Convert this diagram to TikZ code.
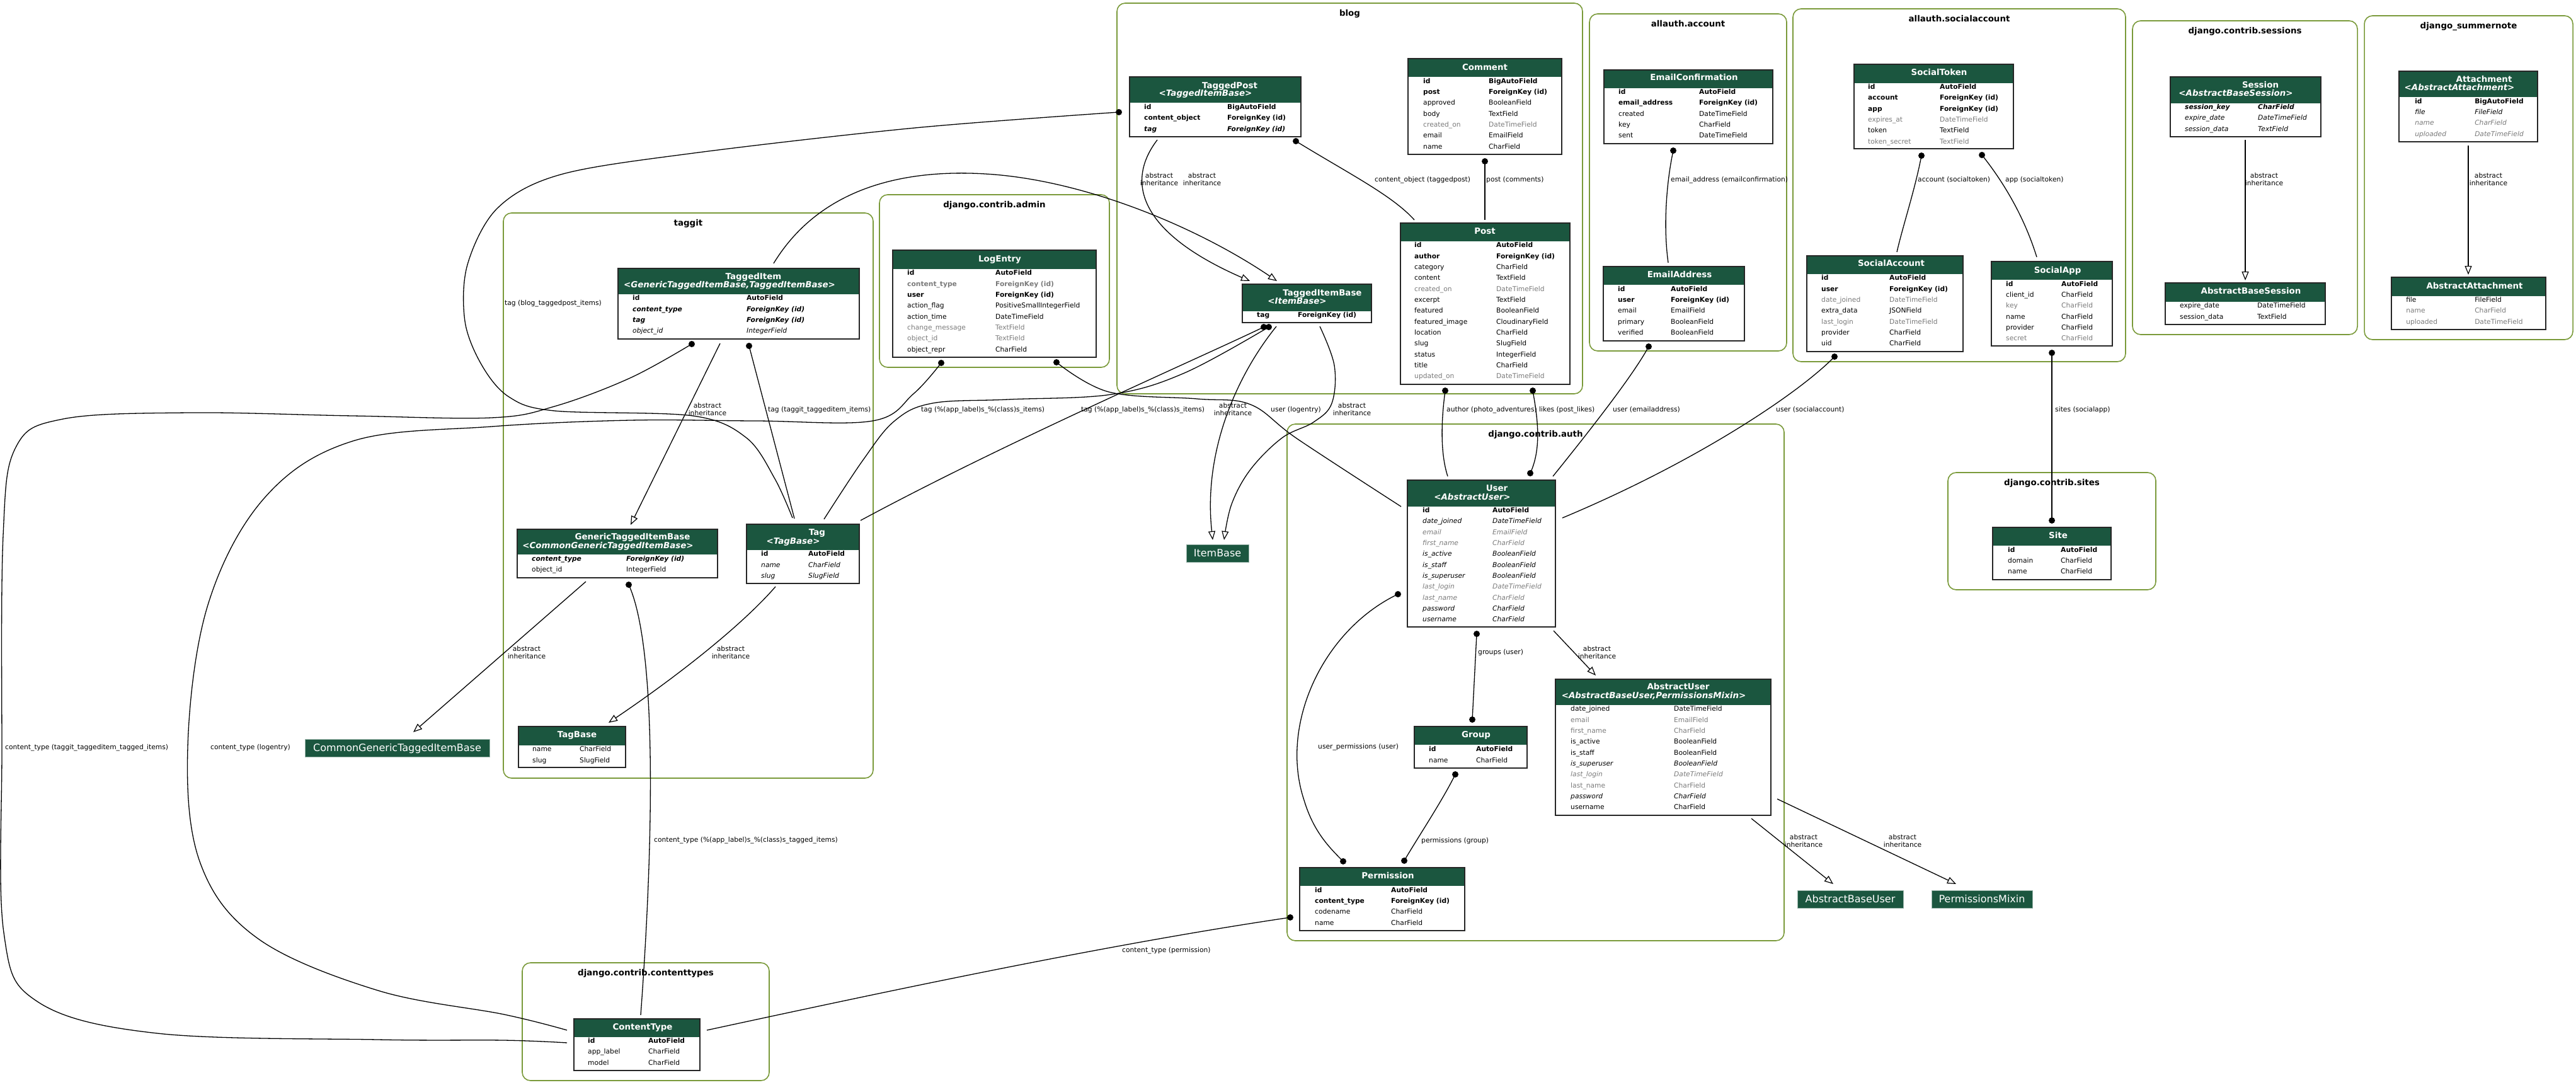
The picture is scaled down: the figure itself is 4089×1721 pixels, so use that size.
\documentclass[tikz,border=0pt]{standalone}
\usepackage{fontspec}
\setmainfont{DejaVu Sans}
\usetikzlibrary{arrows.meta}
\definecolor{hdr}{HTML}{1B563F}
\definecolor{clusgreen}{HTML}{7A9A3A}
\definecolor{fgray}{HTML}{7B7B7B}
\newcommand\fs{\fontsize{10.7}{12}\selectfont}
\newcommand\hfs{\fontsize{13.4}{15}\selectfont}
\newcounter{nn}
\tikzset{
  clus/.style={draw=clusgreen, line width=1.6pt, rounded corners=13pt, inner sep=0pt, outer sep=0pt},
  clab/.style={font=\hfs\bfseries, inner sep=0pt, text height=12pt, text depth=2.2pt, anchor=center},
  tframe/.style={draw=black!85, line width=1.6pt, inner sep=0pt, outer sep=0pt},
  fld/.style={inner sep=0pt, text height=9pt, text depth=2pt, anchor=west},
  f/.style={font=\fs},
  fb/.style={font=\fs\bfseries},
  fi/.style={font=\fs\itshape},
  fbi/.style={font=\fs\bfseries\itshape},
  fg/.style={font=\fs, text=fgray},
  fgi/.style={font=\fs\itshape, text=fgray},
  fgb/.style={font=\fs\bfseries, text=fgray},
  htitle/.style={font=\hfs\bfseries, text=white, inner sep=0pt, text height=12pt, text depth=2.2pt, anchor=center},
  htitlei/.style={font=\hfs\bfseries\itshape, text=white, inner sep=0pt, text height=12pt, text depth=2.2pt, anchor=center},
  edge/.style={draw=black, line width=1.3pt},
  inh/.style={edge, -{Triangle[fill=white, length=14pt, width=11pt, line width=1.2pt]}},
  elab/.style={font=\fs, inner sep=0pt, text height=9pt, text depth=2pt, anchor=west},
  elab2/.style={font=\fs, inner sep=0pt, align=center, anchor=center},
  std/.style={fill=hdr, draw=hdr!45!white, line width=0.8pt, text=white, font=\fontsize{16}{18}\selectfont, inner sep=0pt, minimum height=28pt, text height=14pt, text depth=2.4pt, anchor=center}
}
\newcommand\mktable[6]{%
  \fill[white] (#2,#3) rectangle (#4,#5);
  \fill[hdr] (#2,#3) rectangle (#4,#6);
  \node[tframe, minimum width={(#4-#2)*1pt}, minimum height={(#5-#3)*1pt}] (#1) at ({(#2+#4)/2},{(#3+#5)/2}) {};}
\newcommand\mkrow[6]{\stepcounter{nn}%
  \node[fld,#4] (ra\thenn) at (#1,#3) {#5};
  \node[fld,#4] (rb\thenn) at (#2,#3) {#6};}
\newcommand\mkclus[6]{%
  \node[clus, minimum width={(#4-#2)*1pt}, minimum height={(#5-#3)*1pt}] (#1) at ({(#2+#4)/2},{(#3+#5)/2}) {};
  \node[clab] (#1-lab) at ({(#2+#4)/2},{#3+16}) {#6};}
\newcommand\dotat[1]{\fill (#1) circle[radius=5pt];}
\begin{document}
\begin{tikzpicture}[x=1pt,y=-1pt]
\fill[white] (0,0) rectangle (4089,1721);
\useasboundingbox (0,0) rectangle (4089,1721);

% ---------------- clusters
\mkclus{cblog}{1773}{5}{2512}{625}{blog}
\mkclus{cacc}{2523}{22}{2836}{557}{allauth.account}
\mkclus{csoc}{2846}{14}{3374}{574}{allauth.socialaccount}
\mkclus{cses}{3385}{33}{3742}{531}{django.contrib.sessions}
\mkclus{csum}{3753}{25}{4084}{539}{django\_summernote}
\mkclus{ctag}{799}{338}{1386}{1235}{taggit}
\mkclus{cadm}{1396}{309}{1761}{583}{django.contrib.admin}
\mkclus{cauth}{2043}{673}{2832}{1493}{django.contrib.auth}
\mkclus{csite}{3092}{750}{3422}{936}{django.contrib.sites}
\mkclus{cct}{829}{1528}{1221}{1715}{django.contrib.contenttypes}

% ---------------- edges
% blog
\coordinate (tp-b1) at (2057,224); \coordinate (post-t1) at (2245,349);
\draw[edge] (tp-b1) .. controls (2140,275) and (2210,310) .. (post-t1); \dotat{tp-b1}
\coordinate (cm-b) at (2357,256); \coordinate (post-t2) at (2357,349);
\draw[edge] (cm-b) -- (post-t2); \dotat{cm-b}
\coordinate (tp-b2) at (1837,222); \coordinate (tib-t1) at (1984,446);
\draw[inh] (tp-b2) .. controls (1785,290) and (1810,370) .. (tib-t1);
\coordinate (ti-t) at (1228,418); \coordinate (tib-t2) at (2027,446);
\draw[inh] (ti-t) .. controls (1300,300) and (1430,268) .. (1564,276) .. controls (1720,285) and (1900,360) .. (tib-t2);
% tag (blog_taggedpost_items)
\coordinate (tp-l) at (1776,178); \coordinate (tag-t1) at (1258,822);
\draw[edge] plot[smooth, tension=0.55] coordinates {(tp-l) (1452,203) (1101,243) (890,277) (790,330) (742,420) (738,510) (765,580) (808,630) (880,652) (1100,660) (1185,695) (1230,760) (tag-t1)};
\dotat{tp-l}
% tag (%(app_label)s_%(class)s_items)
\coordinate (tib-b1) at (2006,519); \coordinate (tag-tr) at (1366,826);
\draw[edge] (tib-b1) .. controls (1900,570) and (1600,700) .. (tag-tr); \dotat{tib-b1}
\coordinate (tib-b2) at (2014,519); \coordinate (tag-t2) at (1308,824);
\draw[edge] plot[smooth, tension=0.6] coordinates {(tib-b2) (1880,592) (1764,626) (1600,634) (1480,640) (1420,668) (1370,730) (tag-t2)};
\dotat{tib-b2}
% TaggedItemBase -> ItemBase
\coordinate (tib-b3) at (2095,518); \coordinate (ib-t2) at (1943,857);
\draw[inh] plot[smooth, tension=0.6] coordinates {(tib-b3) (2118,580) (2114,640) (2085,670) (2035,695) (1985,745) (1955,800) (ib-t2)};
\coordinate (tib-b4) at (2026,518); \coordinate (ib-t1) at (1925,857);
\draw[inh] (tib-b4) .. controls (1960,600) and (1910,720) .. (ib-t1);
% user (logentry)
\coordinate (le-b2) at (1677,575); \coordinate (user-l) at (2224,804);
\draw[edge] plot[smooth, tension=0.6] coordinates {(le-b2) (1760,622) (1900,633) (1985,642) (2060,697) (user-l)};
\dotat{le-b2}
% content_type (logentry)
\coordinate (le-b1) at (1494,576); \coordinate (ct-l1) at (900,1635);
\draw[edge] plot[smooth, tension=0.6] coordinates {(le-b1) (1450,625) (1385,668) (1200,668) (1000,667) (780,677) (560,700) (420,790) (330,960) (298,1186) (318,1370) (410,1490) (600,1572) (800,1610) (ct-l1)};
\dotat{le-b1}
% content_type (taggit_taggeditem_tagged_items)
\coordinate (ti-b1) at (1098,546); \coordinate (ct-l2) at (900,1655);
\draw[edge] plot[smooth, tension=0.6] coordinates {(ti-b1) (1000,600) (880,645) (780,663) (560,660) (300,655) (100,665) (25,710) (5,850) (3,1186) (6,1480) (60,1590) (250,1640) (600,1650) (800,1651) (ct-l2)};
\dotat{ti-b1}
% taggit internal
\coordinate (ti-b2) at (1143,545); \coordinate (gtib-t) at (1001,833);
\draw[inh] (ti-b2) -- (gtib-t);
\coordinate (ti-b3) at (1189,549); \coordinate (tag-t3) at (1261,823);
\draw[edge] (ti-b3) -- (tag-t3); \dotat{ti-b3}
\coordinate (gtib-b1) at (930,923); \coordinate (cg-t) at (656,1162);
\draw[inh] (gtib-b1) -- (cg-t);
\coordinate (tag-b) at (1231,931); \coordinate (tb-t) at (966,1147);
\draw[inh] (tag-b) .. controls (1180,990) and (1080,1070) .. (tb-t);
\coordinate (gtib-b2) at (998,928); \coordinate (ct-t) at (1017,1611);
\draw[edge] (gtib-b2) .. controls (1040,1020) and (1040,1300) .. (ct-t); \dotat{gtib-b2}
% content_type (permission)
\coordinate (perm-l) at (2048,1456); \coordinate (ct-r) at (1122,1635);
\draw[edge] (perm-l) .. controls (1750,1500) and (1400,1575) .. (ct-r); \dotat{perm-l}
% post -> user
\coordinate (post-b1) at (2294,620); \coordinate (user-t1) at (2298,756);
\draw[edge] (post-b1) .. controls (2286,680) and (2288,725) .. (user-t1); \dotat{post-b1}
\coordinate (post-b2) at (2433,620); \coordinate (user-t2) at (2429,751);
\draw[edge] (post-b2) .. controls (2440,660) and (2448,710) .. (user-t2); \dotat{post-b2} \dotat{user-t2}
% allauth -> user
\coordinate (ea-b) at (2617,550); \coordinate (user-t3) at (2465,756);
\draw[edge] (ea-b) .. controls (2590,600) and (2510,700) .. (user-t3); \dotat{ea-b}
\coordinate (sa-b) at (2912,566); \coordinate (user-r) at (2480,822);
\draw[edge] (sa-b) .. controls (2860,620) and (2700,730) .. (user-r); \dotat{sa-b}
\coordinate (sapp-b) at (3257,560); \coordinate (site-t) at (3257,826);
\draw[edge] (sapp-b) -- (site-t); \dotat{sapp-b} \dotat{site-t}
\coordinate (ec-b) at (2656,239); \coordinate (ea-t) at (2648,417);
\draw[edge] (ec-b) .. controls (2645,290) and (2640,360) .. (ea-t); \dotat{ec-b}
\coordinate (st-b1) at (3050,247); \coordinate (sa-t) at (3011,400);
\draw[edge] (st-b1) .. controls (3040,300) and (3020,360) .. (sa-t); \dotat{st-b1}
\coordinate (st-b2) at (3146,246); \coordinate (sapp-t) at (3233,408);
\draw[edge] (st-b2) .. controls (3185,295) and (3215,350) .. (sapp-t); \dotat{st-b2}
% sessions / summernote
\coordinate (ses-b) at (3564,222); \coordinate (abs-t) at (3564,445);
\draw[inh] (ses-b) -- (abs-t);
\coordinate (att-b) at (3918,231); \coordinate (aat-t) at (3918,436);
\draw[inh] (att-b) -- (aat-t);
% auth
\coordinate (user-b1) at (2466,1001); \coordinate (au-t) at (2533,1072);
\draw[inh] (user-b1) -- (au-t);
\coordinate (user-b2) at (2344,1006); \coordinate (grp-t) at (2337,1142);
\draw[edge] (user-b2) -- (grp-t); \dotat{user-b2} \dotat{grp-t}
\coordinate (user-l2) at (2219,943); \coordinate (perm-t1) at (2132,1367);
\draw[edge] (user-l2) .. controls (2100,1000) and (2030,1150) .. (2070,1270) .. controls (2085,1320) and (2110,1345) .. (perm-t1); \dotat{user-l2} \dotat{perm-t1}
\coordinate (grp-b) at (2310,1229); \coordinate (perm-t2) at (2229,1366);
\draw[edge] (grp-b) .. controls (2290,1270) and (2250,1330) .. (perm-t2); \dotat{grp-b} \dotat{perm-t2}
\coordinate (au-b1) at (2780,1299); \coordinate (abu-t) at (2910,1403);
\draw[inh] (au-b1) -- (abu-t);
\coordinate (au-b2) at (2821,1268); \coordinate (pm-t) at (3105,1403);
\draw[inh] (au-b2) -- (pm-t);

% ---------------- edge labels
\node[elab2] (l1) at (1840,285) {abstract\\inheritance};
\node[elab2] (l2) at (1908,285) {abstract\\inheritance};
\node[elab] (l3) at (2182,285) {content\_object (taggedpost)};
\node[elab] (l4) at (2359,285) {post (comments)};
\node[elab] (l5) at (2652,285) {email\_address (emailconfirmation)};
\node[elab] (l6) at (3044,285) {account (socialtoken)};
\node[elab] (l7) at (3183,285) {app (socialtoken)};
\node[elab2] (l8) at (3594,285) {abstract\\inheritance};
\node[elab2] (l9) at (3950,285) {abstract\\inheritance};
\node[elab] (l10) at (801,481) {tag (blog\_taggedpost\_items)};
\node[elab2] (l11) at (1123,650) {abstract\\inheritance};
\node[elab] (l12) at (1219,650) {tag (taggit\_taggeditem\_items)};
\node[elab] (l13) at (1462,650) {tag (\%(app\_label)s\_\%(class)s\_items)};
\node[elab] (l14) at (1716,650) {tag (\%(app\_label)s\_\%(class)s\_items)};
\node[elab2] (l15) at (1957,650) {abstract\\inheritance};
\node[elab] (l16) at (2017,650) {user (logentry)};
\node[elab2] (l17) at (2146,650) {abstract\\inheritance};
\node[elab] (l18) at (2296,650) {author (photo\_adventures)};
\node[elab] (l19) at (2443,650) {likes (post\_likes)};
\node[elab] (l20) at (2560,650) {user (emailaddress)};
\node[elab] (l21) at (2819,650) {user (socialaccount)};
\node[elab] (l22) at (3262,650) {sites (socialapp)};
\node[elab2] (l23) at (836,1035) {abstract\\inheritance};
\node[elab2] (l24) at (1160,1035) {abstract\\inheritance};
\node[elab] (l25) at (8,1186) {content\_type (taggit\_taggeditem\_tagged\_items)};
\node[elab] (l26) at (334,1186) {content\_type (logentry)};
\node[elab] (l27) at (1038,1333) {content\_type (\%(app\_label)s\_\%(class)s\_tagged\_items)};
\node[elab] (l28) at (1781,1508) {content\_type (permission)};
\node[elab] (l29) at (2346,1035) {groups (user)};
\node[elab2] (l30) at (2535,1035) {abstract\\inheritance};
\node[elab] (l31) at (2092,1185) {user\_permissions (user)};
\node[elab] (l32) at (2256,1334) {permissions (group)};
\node[elab2] (l33) at (2863,1334) {abstract\\inheritance};
\node[elab2] (l34) at (3020,1334) {abstract\\inheritance};

% ---------------- standalone nodes
\node[std, minimum width=293pt] (cgtib) at (630.5,1187) {CommonGenericTaggedItemBase};
\node[std, minimum width=99pt] (itembase) at (1932.5,878) {ItemBase};
\node[std, minimum width=168pt] (abu) at (2937,1427) {AbstractBaseUser};
\node[std, minimum width=160pt] (pmix) at (3146,1427) {PermissionsMixin};

% ---------------- tables
% TaggedPost
\mktable{taggedpost}{1793}{122}{2065}{217}{163}
\node[htitle] (tp-h1) at (1952,135.5) {TaggedPost};
\node[htitlei] (tp-h2) at (1913.5,148) {<TaggedItemBase>};
\mkrow{1816}{1948}{170}{fb}{id}{BigAutoField}
\mkrow{1816}{1948}{187}{fb}{content\_object}{ForeignKey (id)}
\mkrow{1816}{1948}{205}{fbi}{tag}{ForeignKey (id)}
% Comment
\mktable{comment}{2235}{93}{2479}{245}{122}
\node[htitle] (cm-h) at (2357,106.5) {Comment};
\mkrow{2259}{2363}{129}{fb}{id}{BigAutoField}
\mkrow{2259}{2363}{146}{fb}{post}{ForeignKey (id)}
\mkrow{2259}{2363}{163}{f}{approved}{BooleanField}
\mkrow{2259}{2363}{181}{f}{body}{TextField}
\mkrow{2259}{2363}{198}{fg}{created\_on}{DateTimeField}
\mkrow{2259}{2363}{215}{f}{email}{EmailField}
\mkrow{2259}{2363}{233}{f}{name}{CharField}
% Post
\mktable{post}{2223}{354}{2492}{610}{383}
\node[htitle] (post-h) at (2357,366.5) {Post};
\mkrow{2245}{2375}{389}{fb}{id}{AutoField}
\mkrow{2245}{2375}{407}{fb}{author}{ForeignKey (id)}
\mkrow{2245}{2375}{424}{f}{category}{CharField}
\mkrow{2245}{2375}{441}{f}{content}{TextField}
\mkrow{2245}{2375}{459}{fg}{created\_on}{DateTimeField}
\mkrow{2245}{2375}{476}{f}{excerpt}{TextField}
\mkrow{2245}{2375}{493}{f}{featured}{BooleanField}
\mkrow{2245}{2375}{511}{f}{featured\_image}{CloudinaryField}
\mkrow{2245}{2375}{528}{f}{location}{CharField}
\mkrow{2245}{2375}{545}{f}{slug}{SlugField}
\mkrow{2245}{2375}{563}{f}{status}{IntegerField}
\mkrow{2245}{2375}{580}{f}{title}{CharField}
\mkrow{2245}{2375}{597}{fg}{updated\_on}{DateTimeField}
% TaggedItemBase
\mktable{taggeditembase}{1972}{451}{2177}{512}{494}
\node[htitle] (tib-h1) at (2099,465) {TaggedItemBase};
\node[htitlei] (tib-h2) at (2059,478) {<ItemBase>};
\mkrow{1995}{2060}{500}{fb}{tag}{ForeignKey (id)}
% EmailConfirmation
\mktable{emailconf}{2546}{111}{2814}{228}{140}
\node[htitle] (ec-h) at (2689,123) {EmailConfirmation};
\mkrow{2569}{2697}{146}{fb}{id}{AutoField}
\mkrow{2569}{2697}{163}{fb}{email\_address}{ForeignKey (id)}
\mkrow{2569}{2697}{181}{f}{created}{DateTimeField}
\mkrow{2569}{2697}{198}{f}{key}{CharField}
\mkrow{2569}{2697}{215}{f}{sent}{DateTimeField}
% EmailAddress
\mktable{emailaddr}{2545}{423}{2769}{541}{452}
\node[htitle] (ea-h) at (2666,436) {EmailAddress};
\mkrow{2568}{2652}{459}{fb}{id}{AutoField}
\mkrow{2568}{2652}{476}{fb}{user}{ForeignKey (id)}
\mkrow{2568}{2652}{493}{f}{email}{EmailField}
\mkrow{2568}{2652}{511}{f}{primary}{BooleanField}
\mkrow{2568}{2652}{528}{f}{verified}{BooleanField}
% SocialToken
\mktable{socialtoken}{2943}{102}{3196}{236}{132}
\node[htitle] (st-h) at (3078,115) {SocialToken};
\mkrow{2965}{3079}{138}{fb}{id}{AutoField}
\mkrow{2965}{3079}{155}{fb}{account}{ForeignKey (id)}
\mkrow{2965}{3079}{173}{fb}{app}{ForeignKey (id)}
\mkrow{2965}{3079}{190}{fg}{expires\_at}{DateTimeField}
\mkrow{2965}{3079}{207}{f}{token}{TextField}
\mkrow{2965}{3079}{225}{fg}{token\_secret}{TextField}
% SocialAccount
\mktable{socialaccount}{2868}{406}{3116}{558}{435}
\node[htitle] (sa-h) at (3002,418) {SocialAccount};
\mkrow{2891}{2999}{441}{fb}{id}{AutoField}
\mkrow{2891}{2999}{459}{fb}{user}{ForeignKey (id)}
\mkrow{2891}{2999}{476}{fg}{date\_joined}{DateTimeField}
\mkrow{2891}{2999}{493}{f}{extra\_data}{JSONField}
\mkrow{2891}{2999}{511}{fg}{last\_login}{DateTimeField}
\mkrow{2891}{2999}{528}{f}{provider}{CharField}
\mkrow{2891}{2999}{545}{f}{uid}{CharField}
% SocialApp
\mktable{socialapp}{3161}{415}{3353}{549}{444}
\node[htitle] (sapp-h) at (3266,429) {SocialApp};
\mkrow{3184}{3272}{451}{fb}{id}{AutoField}
\mkrow{3184}{3272}{468}{f}{client\_id}{CharField}
\mkrow{3184}{3272}{485}{fg}{key}{CharField}
\mkrow{3184}{3272}{503}{f}{name}{CharField}
\mkrow{3184}{3272}{520}{f}{provider}{CharField}
\mkrow{3184}{3272}{537}{fg}{secret}{CharField}
% Session
\mktable{session}{3445}{122}{3684}{217}{164}
\node[htitle] (ses-h1) at (3588,135) {Session};
\node[htitlei] (ses-h2) at (3549,148) {<AbstractBaseSession>};
\mkrow{3468}{3584}{170}{fbi}{session\_key}{CharField}
\mkrow{3468}{3584}{187}{fi}{expire\_date}{DateTimeField}
\mkrow{3468}{3584}{205}{fi}{session\_data}{TextField}
% AbstractBaseSession
\mktable{absession}{3437}{449}{3691}{515}{479}
\node[htitle] (abs-h) at (3573,462) {AbstractBaseSession};
\mkrow{3460}{3583}{485}{f}{expire\_date}{DateTimeField}
\mkrow{3460}{3583}{503}{f}{session\_data}{TextField}
% Attachment
\mktable{attachment}{3808}{113}{4028}{225}{154}
\node[htitle] (att-h1) at (3943,126) {Attachment};
\node[htitlei] (att-h2) at (3904,139) {<AbstractAttachment>};
\mkrow{3833}{3928}{161}{fb}{id}{BigAutoField}
\mkrow{3833}{3928}{178}{fi}{file}{FileField}
\mkrow{3833}{3928}{195}{fgi}{name}{CharField}
\mkrow{3833}{3928}{213}{fgi}{uploaded}{DateTimeField}
% AbstractAttachment
\mktable{absattach}{3796}{440}{4041}{523}{470}
\node[htitle] (aat-h) at (3928,454) {AbstractAttachment};
\mkrow{3819}{3928}{476}{f}{file}{FileField}
\mkrow{3819}{3928}{493}{fg}{name}{CharField}
\mkrow{3819}{3928}{511}{fg}{uploaded}{DateTimeField}
% TaggedItem
\mktable{taggeditem}{981}{426}{1364}{538}{467}
\node[htitle] (ti-h1) at (1196,438.5) {TaggedItem};
\node[htitlei] (ti-h2) at (1158,452) {<GenericTaggedItemBase,TaggedItemBase>};
\mkrow{1004}{1185}{473}{fb}{id}{AutoField}
\mkrow{1004}{1185}{491}{fbi}{content\_type}{ForeignKey (id)}
\mkrow{1004}{1185}{508}{fbi}{tag}{ForeignKey (id)}
\mkrow{1004}{1185}{525}{fi}{object\_id}{IntegerField}
% GenericTaggedItemBase
\mktable{gtib}{821}{840}{1139}{917}{880}
\node[htitle] (gtib-h1) at (1004,852) {GenericTaggedItemBase};
\node[htitlei] (gtib-h2) at (965,866) {<CommonGenericTaggedItemBase>};
\mkrow{844}{994}{887}{fbi}{content\_type}{ForeignKey (id)}
\mkrow{844}{994}{904}{f}{object\_id}{IntegerField}
% Tag
\mktable{tag}{1185}{832}{1364}{926}{873}
\node[htitle] (tag-h1) at (1297,845) {Tag};
\node[htitlei] (tag-h2) at (1259,859) {<TagBase>};
\mkrow{1208}{1283}{879}{fb}{id}{AutoField}
\mkrow{1208}{1283}{897}{fi}{name}{CharField}
\mkrow{1208}{1283}{914}{fi}{slug}{SlugField}
% TagBase
\mktable{tagbase}{823}{1153}{993}{1218}{1183}
\node[htitle] (tb-h) at (916,1166) {TagBase};
\mkrow{845}{920}{1189}{f}{name}{CharField}
\mkrow{845}{920}{1207}{f}{slug}{SlugField}
% LogEntry
\mktable{logentry}{1417}{397}{1740}{567}{427}
\node[htitle] (le-h) at (1587,411) {LogEntry};
\mkrow{1440}{1580}{433}{fb}{id}{AutoField}
\mkrow{1440}{1580}{451}{fgb}{content\_type}{ForeignKey (id)}
\mkrow{1440}{1580}{468}{fb}{user}{ForeignKey (id)}
\mkrow{1440}{1580}{485}{f}{action\_flag}{PositiveSmallIntegerField}
\mkrow{1440}{1580}{503}{f}{action\_time}{DateTimeField}
\mkrow{1440}{1580}{520}{fg}{change\_message}{TextField}
\mkrow{1440}{1580}{537}{fg}{object\_id}{TextField}
\mkrow{1440}{1580}{555}{f}{object\_repr}{CharField}
% User
\mktable{user}{2234}{762}{2469}{995}{804}
\node[htitle] (user-h1) at (2376,775) {User};
\node[htitlei] (user-h2) at (2337,789) {<AbstractUser>};
\mkrow{2258}{2369}{810}{fb}{id}{AutoField}
\mkrow{2258}{2369}{827}{fi}{date\_joined}{DateTimeField}
\mkrow{2258}{2369}{845}{fgi}{email}{EmailField}
\mkrow{2258}{2369}{862}{fgi}{first\_name}{CharField}
\mkrow{2258}{2369}{879}{fi}{is\_active}{BooleanField}
\mkrow{2258}{2369}{897}{fi}{is\_staff}{BooleanField}
\mkrow{2258}{2369}{914}{fi}{is\_superuser}{BooleanField}
\mkrow{2258}{2369}{931}{fgi}{last\_login}{DateTimeField}
\mkrow{2258}{2369}{949}{fgi}{last\_name}{CharField}
\mkrow{2258}{2369}{966}{fi}{password}{CharField}
\mkrow{2258}{2369}{983}{fi}{username}{CharField}
% Group
\mktable{group}{2245}{1153}{2424}{1219}{1182}
\node[htitle] (grp-h) at (2343,1166) {Group};
\mkrow{2268}{2343}{1189}{fb}{id}{AutoField}
\mkrow{2268}{2343}{1207}{f}{name}{CharField}
% Permission
\mktable{permission}{2063}{1377}{2325}{1477}{1406}
\node[htitle] (perm-h) at (2203,1390) {Permission};
\mkrow{2087}{2208}{1413}{fb}{id}{AutoField}
\mkrow{2087}{2208}{1430}{fb}{content\_type}{ForeignKey (id)}
\mkrow{2087}{2208}{1447}{f}{codename}{CharField}
\mkrow{2087}{2208}{1465}{f}{name}{CharField}
% AbstractUser
\mktable{abstractuser}{2469}{1078}{2811}{1294}{1119}
\node[htitle] (au-h1) at (2664,1090) {AbstractUser};
\node[htitlei] (au-h2) at (2625,1104) {<AbstractBaseUser,PermissionsMixin>};
\mkrow{2493}{2657}{1125}{f}{date\_joined}{DateTimeField}
\mkrow{2493}{2657}{1143}{fg}{email}{EmailField}
\mkrow{2493}{2657}{1160}{fg}{first\_name}{CharField}
\mkrow{2493}{2657}{1177}{f}{is\_active}{BooleanField}
\mkrow{2493}{2657}{1195}{f}{is\_staff}{BooleanField}
\mkrow{2493}{2657}{1212}{fi}{is\_superuser}{BooleanField}
\mkrow{2493}{2657}{1229}{fgi}{last\_login}{DateTimeField}
\mkrow{2493}{2657}{1247}{fg}{last\_name}{CharField}
\mkrow{2493}{2657}{1264}{fi}{password}{CharField}
\mkrow{2493}{2657}{1281}{f}{username}{CharField}
% Site
\mktable{site}{3163}{837}{3351}{920}{866}
\node[htitle] (site-h) at (3267,850) {Site};
\mkrow{3187}{3271}{873}{fb}{id}{AutoField}
\mkrow{3187}{3271}{890}{f}{domain}{CharField}
\mkrow{3187}{3271}{907}{f}{name}{CharField}
% ContentType
\mktable{contenttype}{911}{1617}{1111}{1699}{1646}
\node[htitle] (ct-h) at (1020,1630) {ContentType};
\mkrow{933}{1029}{1652}{fb}{id}{AutoField}
\mkrow{933}{1029}{1669}{f}{app\_label}{CharField}
\mkrow{933}{1029}{1687}{f}{model}{CharField}
\end{tikzpicture}
\end{document}
